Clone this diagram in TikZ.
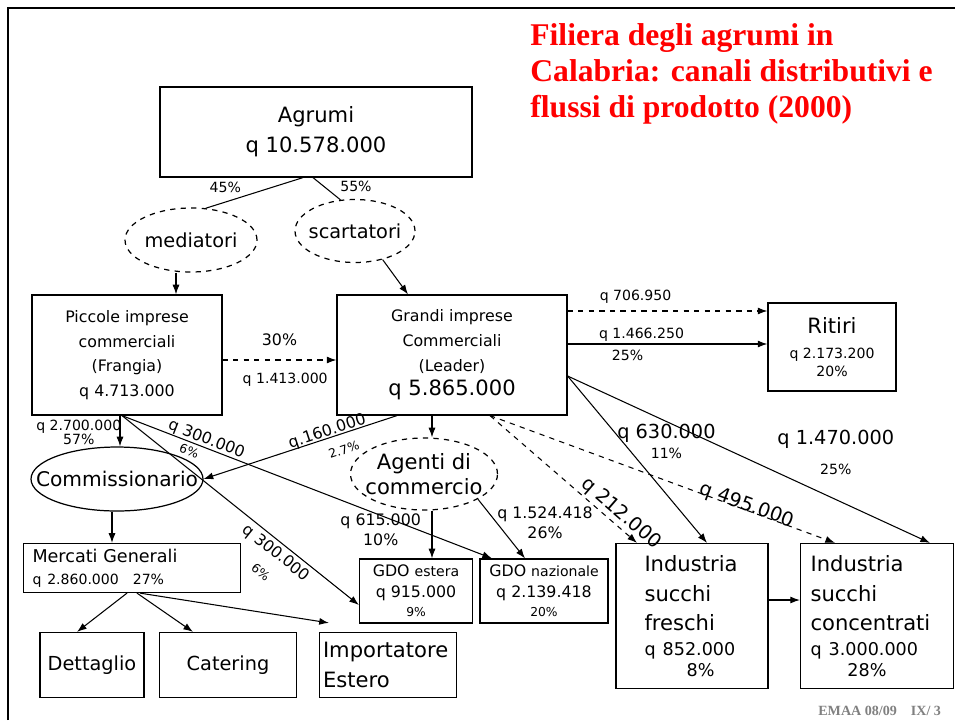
\documentclass[tikz,border=0pt]{standalone}
\usepackage{fontspec}
\setmainfont{DejaVu Sans}
\newfontfamily\titlefont{Liberation Serif}
\usetikzlibrary{shapes.geometric,arrows.meta,calc}

\definecolor{titlered}{RGB}{255,0,0}
\definecolor{footgray}{RGB}{128,128,128}

\newcommand\ftA{\fontsize{12}{14}\selectfont}
\newcommand\ftL{\fontsize{11}{13}\selectfont}
\newcommand\ftB{\fontsize{10}{12.5}\selectfont}
\newcommand\ftC{\fontsize{9}{14}\selectfont}
\newcommand\ftD{\fontsize{8}{10}\selectfont}
\newcommand\ftE{\fontsize{7}{9}\selectfont}

\tikzset{
  box/.style={draw, line width=0.7pt, inner sep=1pt, align=center},
  oval/.style={draw, ellipse, line width=0.7pt, inner ysep=0pt, inner xsep=-6pt, align=center},
  flow/.style={line width=0.6pt, -{Latex[length=5.5pt,width=4pt]}},
  link/.style={line width=0.6pt},
  lab/.style={font=\ftD, inner sep=1pt, align=center},
}

\begin{document}
\begin{tikzpicture}[x=0.02cm, y=-0.02cm]
\useasboundingbox (0,0) rectangle (955,720);
\draw[line width=1.7pt] (8,720) -- (8,8) -- (955,8);

\node[anchor=north west, align=left, inner sep=0pt, text=titlered,
      font=\titlefont\bfseries\fontsize{18}{20.5}\selectfont] (title) at (530,23)
  {Filiera degli agrumi in\\Calabria: canali distributivi e\\flussi di prodotto (2000)};
\node[anchor=base west, inner sep=0pt, text=footgray,
      font=\titlefont\bfseries\fontsize{8}{9}\selectfont] (foot) at (818,715) {EMAA 08/09\quad IX/ 3};

% boxes
\node[box, minimum width=6.24cm, minimum height=1.8cm, font=\ftA] (agrumi) at (316,132) {Agrumi\\[3pt]q 10.578.000};
\node[oval, dashed, minimum width=2.64cm, minimum height=1.28cm, font=\ftL] (medi) at (191,240) {mediatori};
\node[oval, dashed, minimum width=2.4cm, minimum height=1.26cm, font=\ftL] (scart) at (355,231) {scartatori};
\node[box, minimum width=3.8cm, minimum height=2.4cm, font=\ftC] (piccole) at (127,355) {Piccole imprese\\commerciali\\(Frangia)\\q 4.713.000};
\node[box, minimum width=4.6cm, minimum height=2.4cm, font=\ftC] (grandi) at (452,355) {Grandi imprese\\Commerciali\\(Leader)\\{\ftA q 5.865.000}};
\node[box, minimum width=2.56cm, minimum height=1.76cm, font=\ftA] (ritiri) at (832,347) {Ritiri\\{\ftD q 2.173.200}\\[-4pt]{\ftD 20\%}};
\node[oval, minimum width=3.44cm, minimum height=1.28cm, inner xsep=-12pt, font=\fontsize{11.5}{13}\selectfont] (comm) at (117,479) {Commissionario};
\node[oval, dashed, minimum width=2.94cm, minimum height=1.44cm, font=\ftA] (agenti) at (424,474) {Agenti di\\commercio};
\node[box, minimum width=4.34cm, minimum height=0.98cm, text width=3.98cm, inner xsep=0.18cm, align=left, font=\ftB] (mercati) at (132,568) {Mercati Generali\\{\ftD q 2.860.000\quad 27\%}};
\node[box, minimum width=2.26cm, minimum height=1.28cm, font=\ftC] (gdoest) at (416,591) {GDO {\ftD estera}\\[-2pt]q 915.000\\[-3pt]{\ftE 9\%}};
\node[box, minimum width=2.56cm, minimum height=1.28cm, font=\ftC] (gdonaz) at (544,591) {GDO {\ftD nazionale}\\[-2pt]q 2.139.418\\[-3pt]{\ftE 20\%}};
\node[box, minimum width=3.04cm, minimum height=2.9cm, text width=1.9cm, inner xsep=0.57cm, align=left, font=\ftA] (freschi) at (692,616) {Industria\\[3pt]succhi\\[3pt]freschi\\{\ftB q 852.000}\\[-2pt]{\ftB\hspace*{2.4em}8\%}};
\node[box, minimum width=3.06cm, minimum height=2.9cm, text width=2.66cm, inner xsep=0.2cm, align=left, font=\ftA] (conc) at (877,616) {Industria\\[3pt]succhi\\[3pt]concentrati\\{\ftB q 3.000.000}\\[-2pt]{\ftB\hspace*{2.1em}28\%}};
\node[box, minimum width=2.08cm, minimum height=1.3cm, font=\ftL] (dett) at (92,665) {Dettaglio};
\node[box, minimum width=2.74cm, minimum height=1.3cm, font=\ftL] (cater) at (228,665) {Catering};
\node[box, minimum width=2.74cm, minimum height=1.3cm, text width=2.6cm, inner xsep=0.07cm, align=left, font=\ftA] (import) at (388,665) {Importatore\\[3pt]Estero};

% Agrumi
\draw[link] (303,0 |- agrumi.south) -- node[lab, pos=0.8, above=4pt] (p45) {45\%} (medi.65);
\draw[link] (313,0 |- agrumi.south) -- node[lab, pos=0.4, right=8pt] (p55) {55\%} (scart.115);
\draw[flow] (176,0 |- medi.south) -- (176,0 |- piccole.north);
\draw[flow] (scart.-46) -- (408,0 |- grandi.north);

% Piccole imprese
\draw[flow, dashed] (piccole.east |- 0,360) -- node[lab, font=\ftC, above=7pt] (p30) {30\%}
  node[lab, pos=0.55, below=6pt] (q1413) {q 1.413.000} (grandi.west |- 0,360);
\draw[flow] (120,0 |- piccole.south) -- node[lab, pos=0.55, left=-2pt] (q2700) {q 2.700.000\\[-2pt]57\%} (120,0 |- comm.north);
\draw[flow] (122,0 |- piccole.south) -- node[lab, font=\ftC, sloped, pos=0.22, above=-1pt] (q300a) {q 300.000}
  node[lab, font=\ftE, sloped, pos=0.19, below=1pt] (p6a) {6\%} (492,0 |- gdonaz.north);
\draw[flow] (122,0 |- piccole.south) -- node[lab, font=\ftC, sloped, pos=0.68, below=1pt] (q300b) {q 300.000\\{\ftE 6\%}} (gdoest.west |- 0,605);

% Grandi imprese
\draw[flow, dashed] (grandi.east |- 0,311) -- node[lab, pos=0.34, above=3pt] (q706) {q 706.950} (ritiri.west |- 0,311);
\draw[flow] (grandi.east |- 0,344) -- node[lab, pos=0.37, above] (q1466) {q 1.466.250}
  node[lab, pos=0.3, below=2pt] (p25r) {25\%} (ritiri.west |- 0,344);
\draw[flow] (grandi.east |- 0,376) -- node[lab, font=\ftL, pos=0.34, anchor=west, yshift=-5pt] (q630) {q 630.000\\[-2pt]{\ftD 11\%}} (707,0 |- freschi.north);
\draw[flow] (grandi.east |- 0,376) -- node[lab, font=\ftL, pos=0.74, above=13pt] (q1470) {q 1.470.000\\[4pt]{\ftD 25\%}} (930,0 |- conc.north);
\draw[flow, dashed] (490,0 |- grandi.south) -- node[lab, font=\ftL, sloped, pos=0.84, above=0pt] (q212) {q 212.000} (637,0 |- freschi.north);
\draw[flow, dashed] (490,0 |- grandi.south) -- node[lab, font=\ftL, sloped, pos=0.74, above=-4pt] (q495) {q 495.000} (835,0 |- conc.north);
\draw[flow] (397,0 |- grandi.south) -- node[lab, font=\ftC, sloped, pos=0.35, above=-2pt] (q160) {q.160.000}
  node[lab, font=\ftE, sloped, pos=0.3, below=5pt] (p27) {2.7\%} (comm.east);
\draw[flow] (432,0 |- grandi.south) -- (432,0 |- agenti.north);

% Agenti di commercio
\draw[flow] (432,0 |- agenti.south) -- node[lab, font=\ftC, pos=0.4, left=5pt] (q615) {q 615.000\\[-3pt]10\%} (432,0 |- gdoest.north);
\draw[flow] (agenti.-25) -- node[lab, font=\ftC, pos=0.4, right=-1pt] (q1524) {q 1.524.418\\[-3pt]26\%} (525,0 |- gdonaz.north);

% Commissionario, mercati
\draw[flow] (112,0 |- comm.south) -- (112,0 |- mercati.north);
\draw[flow] (127,0 |- mercati.south) -- (77,0 |- dett.north);
\draw[flow] (137,0 |- mercati.south) -- (193,0 |- cater.north);
\draw[flow] (140,0 |- mercati.south) -- ($(import.north west)+(10,-9)$);
\draw[flow] (freschi.east |- 0,600) -- (conc.west |- 0,600);
\end{tikzpicture}
\end{document}
